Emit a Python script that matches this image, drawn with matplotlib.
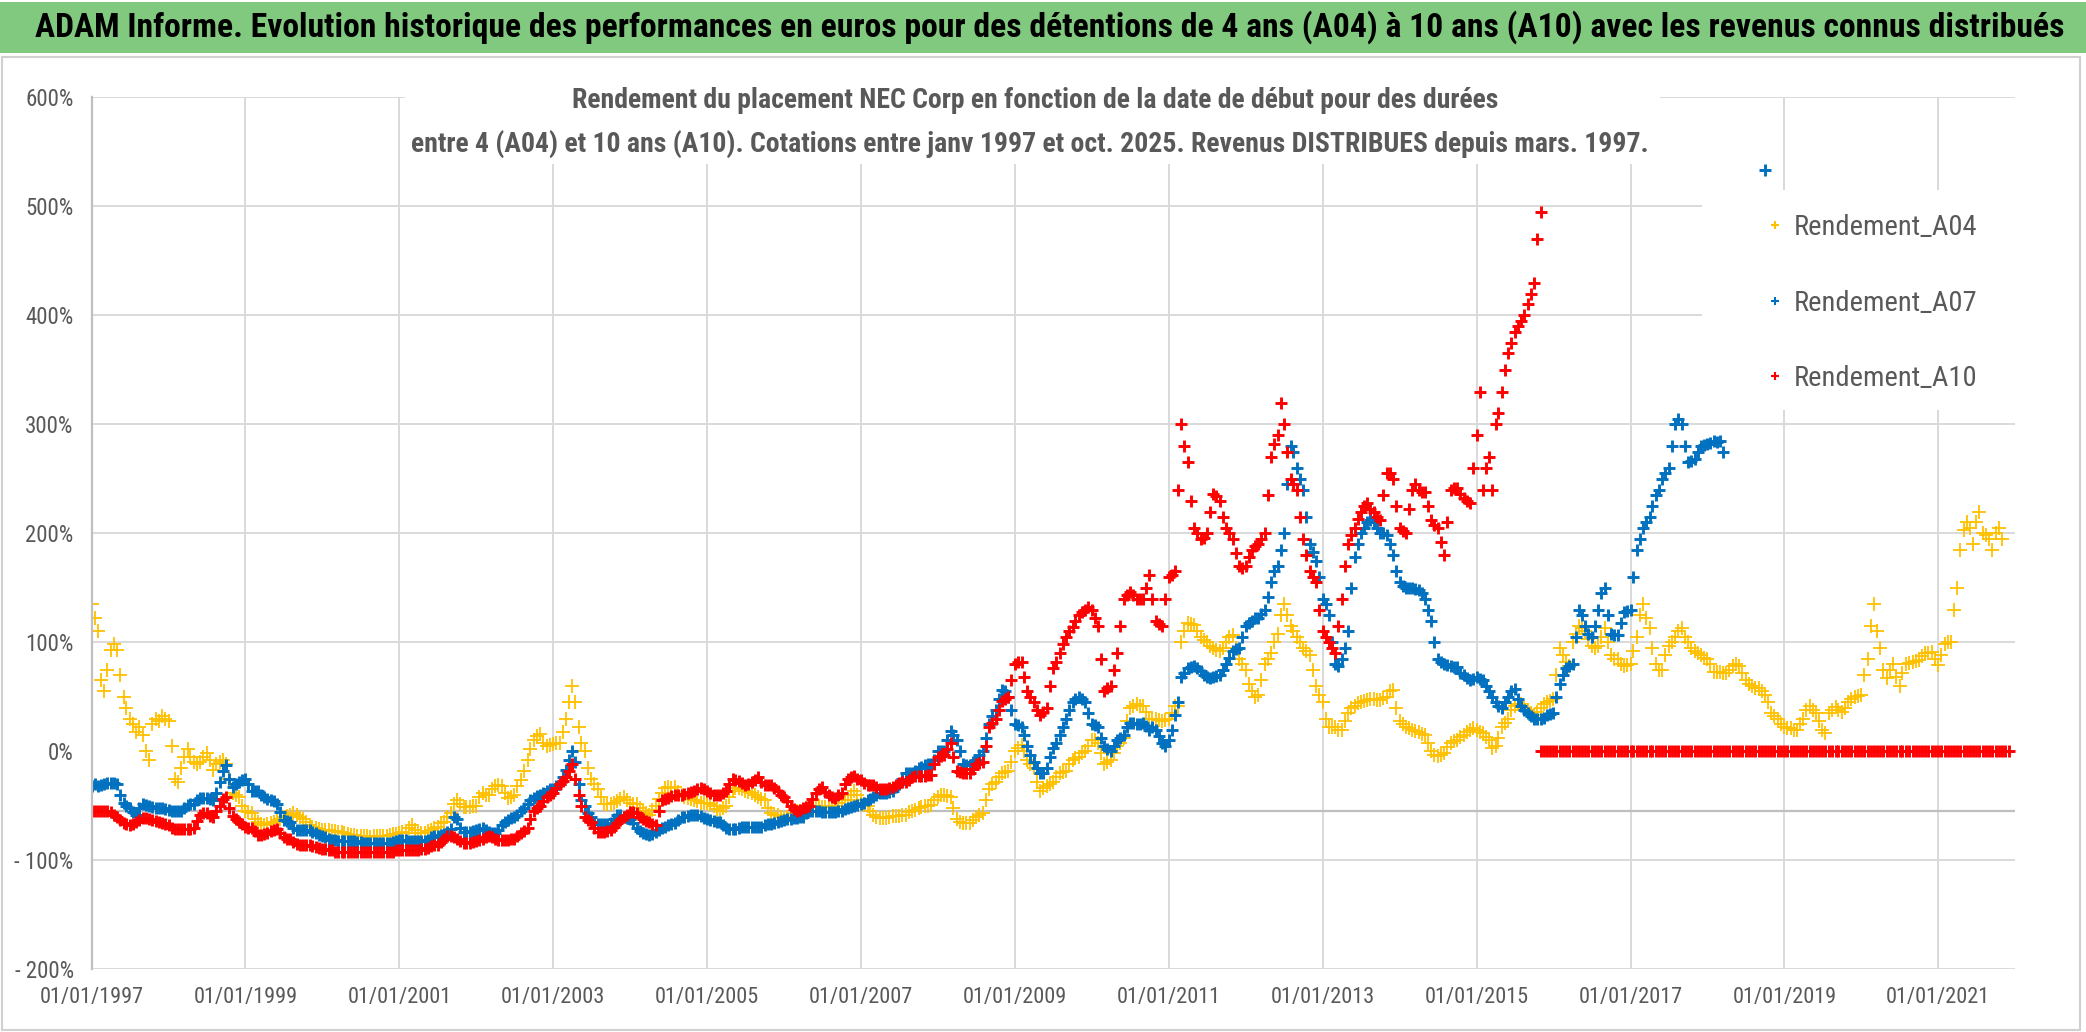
import matplotlib
matplotlib.use('Agg')
import matplotlib.pyplot as plt
import matplotlib.dates as mdates
from matplotlib import font_manager as fm
from matplotlib.patches import Rectangle
from matplotlib.lines import Line2D
import pandas as pd

# Valeurs (en %), le 1er de chaque mois depuis janvier 1997
rendement_a04 = [
    135, 110, 55, 93, 93, 50, 30, 18, 15, -8, 30, 32,
    28, -25, -15, 2, -10, -10, -2, -17, -10, -12, -38, -42,
    -55, -57, -65, -68, -66, -63, -60, -58, -58, -62, -68, -70,
    -72, -72, -73, -74, -76, -77, -78, -78, -78, -78, -78, -76,
    -75, -75, -68, -75, -75, -72, -69, -65, -57, -45, -51, -51,
    -50, -38, -40, -32, -32, -43, -40, -26, -8, 10, 16, 5,
    7, 8, 30, 60, 22, 0, -25, -35, -48, -48, -46, -42,
    -47, -48, -55, -58, -50, -38, -33, -33, -40, -43, -45, -47,
    -47, -50, -55, -50, -36, -34, -36, -38, -42, -45, -57, -58,
    -61, -60, -55, -55, -50, -50, -51, -51, -50, -45, -45, -36,
    -45, -50, -58, -61, -61, -59, -59, -58, -55, -52, -50, -49,
    -42, -40, -42, -62, -66, -66, -60, -57, -35, -28, -20, -18,
    0, 6, -8, -15, -36, -32, -28, -20, -18, -8, -5, 0,
    10, 8, -12, -8, 5, 12, 40, 43, 42, 30, 30, 28,
    30, 42, 100, 118, 116, 105, 100, 95, 92, 100, 107, 85,
    75, 55, 52, 80, 90, 108, 135, 115, 105, 95, 88, 60,
    45, 22, 22, 20, 35, 42, 45, 47, 48, 47, 50, 56,
    28, 22, 20, 18, 15, 0, -4, -2, 8, 10, 15, 20,
    20, 17, 10, 5, 22, 30, 42, 43, 38, 33, 40, 45,
    48, 95, 82, 100, 115, 110, 97, 97, 113, 88, 85, 78,
    80, 105, 135, 113, 80, 75, 97, 105, 113, 100, 92, 88,
    85, 73, 73, 72, 78, 78, 65, 60, 58, 52, 35, 30,
    22, 21, 20, 30, 42, 35, 20, 35, 41, 36, 45, 50,
    52, 85, 135, 95, 67, 80, 60, 80, 82, 84, 90, 91,
    79, 98, 100, 150, 203, 205, 210, 200, 195, 200, 195,
]
# mêmes séries, valeurs lues le 15 de chaque mois
rendement_a04_mi = [
    122, 65, 75, 98, 70, 40, 25, 22, 0, 25, 28, 30,
    5, -28, -5, -5, -12, -5, -8, -12, -8, -25, -40, -50,
    -56, -62, -67, -67, -65, -62, -59, -57, -60, -65, -69, -71,
    -72, -73, -74, -75, -77, -78, -78, -79, -78, -78, -77, -76,
    -74, -70, -72, -75, -73, -70, -66, -60, -48, -48, -51, -50,
    -42, -40, -35, -31, -38, -42, -32, -18, 2, 14, 8, 6,
    8, 18, 45, 45, 8, -15, -30, -42, -48, -47, -44, -45,
    -48, -52, -57, -54, -44, -34, -34, -37, -42, -44, -46, -47,
    -48, -53, -52, -42, -34, -35, -37, -40, -44, -52, -58, -60,
    -60, -57, -55, -52, -50, -50, -51, -50, -47, -45, -40, -40,
    -48, -55, -60, -61, -60, -59, -58, -56, -54, -51, -50, -45,
    -40, -41, -52, -65, -66, -63, -58, -45, -30, -24, -19, -10,
    3, 0, -12, -28, -34, -30, -24, -19, -12, -6, -2, 5,
    10, -2, -10, -2, 8, 28, 42, 42, 36, 30, 29, 29,
    35, 42, 110, 117, 110, 102, 97, 93, 95, 105, 95, 80,
    62, 50, 65, 85, 100, 125, 125, 110, 100, 92, 75, 52,
    30, 22, 20, 28, 40, 44, 46, 48, 47, 49, 55, 40,
    25, 21, 19, 16, 8, -3, -3, 4, 9, 13, 18, 21,
    18, 13, 3, 12, 26, 38, 43, 40, 35, 36, 43, 46,
    70, 88, 78, 108, 113, 103, 95, 105, 100, 85, 80, 79,
    92, 125, 122, 95, 75, 88, 100, 110, 105, 95, 90, 86,
    80, 73, 72, 75, 80, 72, 62, 58, 55, 45, 32, 25,
    21, 20, 25, 38, 38, 28, 17, 38, 38, 40, 48, 51,
    70, 115, 110, 75, 75, 68, 72, 81, 83, 87, 90, 85,
    88, 100, 130, 185, 210, 190, 220, 198, 185, 205,
]

rendement_a07 = [
    -32, -32, -30, -29, -30, -47, -52, -58, -48, -50, -52, -52,
    -54, -55, -55, -49, -48, -43, -43, -45, -28, -13, -33, -28,
    -25, -36, -36, -42, -45, -48, -63, -65, -72, -72, -72, -75,
    -78, -80, -81, -82, -82, -82, -83, -84, -84, -84, -84, -83,
    -81, -81, -82, -82, -82, -79, -78, -76, -71, -62, -74, -74,
    -72, -70, -74, -75, -68, -63, -60, -55, -48, -43, -40, -36,
    -35, -30, -17, 0, -30, -50, -60, -67, -67, -66, -58, -60,
    -62, -70, -75, -77, -74, -70, -68, -66, -60, -59, -58, -59,
    -62, -64, -65, -70, -71, -70, -69, -69, -69, -68, -67, -65,
    -63, -62, -61, -60, -55, -55, -56, -56, -56, -55, -52, -50,
    -48, -45, -42, -38, -38, -36, -30, -20, -20, -15, -13, -12,
    0, 0, 19, 10, -12, -13, -8, 0, 25, 38, 56, 50,
    25, 22, 5, -10, -20, -15, 3, 15, 30, 45, 50, 45,
    25, 22, 5, 0, 10, 15, 26, 25, 26, 20, 20, 8,
    10, 33, 68, 76, 78, 74, 68, 68, 70, 80, 92, 95,
    115, 120, 122, 130, 155, 170, 200, 280, 260, 240, 190, 175,
    140, 125, 80, 85, 110, 178, 200, 210, 210, 200, 198, 180,
    155, 150, 150, 148, 140, 120, 85, 80, 78, 77, 70, 65,
    68, 65, 55, 45, 40, 50, 57, 42, 35, 30, 30, 33,
    35, 62, 76, 80, 130, 115, 105, 130, 150, 108, 107, 128,
    130, 185, 205, 215, 235, 250, 260, 300, 300, 265, 268, 280,
    282, 285, 285,
]
rendement_a07_mi = [
    -30, -31, -29, -29, -40, -50, -56, -52, -49, -51, -52, -53,
    -55, -55, -52, -48, -45, -43, -44, -38, -18, -25, -30, -26,
    -30, -36, -40, -44, -46, -56, -64, -70, -72, -72, -74, -77,
    -79, -81, -82, -82, -82, -83, -84, -84, -84, -84, -84, -82,
    -81, -82, -82, -82, -81, -78, -77, -74, -60, -70, -74, -73,
    -71, -72, -75, -72, -65, -61, -58, -52, -45, -41, -38, -35,
    -32, -24, -8, -10, -45, -57, -65, -67, -67, -62, -58, -61,
    -66, -73, -76, -76, -72, -69, -67, -63, -60, -58, -58, -61,
    -63, -65, -68, -71, -71, -69, -69, -69, -69, -67, -66, -64,
    -62, -61, -60, -57, -55, -55, -56, -56, -55, -53, -51, -49,
    -47, -44, -40, -38, -37, -33, -25, -20, -18, -14, -12, -8,
    0, 10, 15, 0, -13, -10, -3, 12, 32, 48, 55, 38,
    24, 15, -3, -15, -20, -5, 8, 22, 38, 48, 48, 35,
    24, 12, 2, 5, 12, 22, 26, 25, 23, 22, 14, 5,
    20, 45, 72, 77, 76, 70, 67, 69, 75, 86, 94, 105,
    118, 122, 126, 142, 165, 185, 245, 275, 250, 215, 183, 160,
    135, 100, 78, 95, 150, 190, 205, 212, 205, 200, 190, 165,
    152, 150, 149, 145, 130, 100, 82, 79, 77, 72, 67, 66,
    66, 60, 50, 42, 45, 55, 48, 38, 32, 30, 31, 34,
    50, 70, 78, 105, 125, 108, 115, 145, 125, 107, 118, 129,
    160, 195, 210, 225, 240, 255, 280, 305, 280, 266, 275, 281,
    283, 284, 275,
]
# point isolé de la série A07
dates_a07_isole = ['2018-10-01']
rendement_a07_isole = [533]

rendement_a10 = [
    -55, -55, -55, -56, -60, -66, -68, -65, -61, -62, -64, -66,
    -68, -71, -71, -71, -70, -58, -57, -60, -50, -42, -59, -65,
    -69, -70, -77, -76, -73, -71, -79, -80, -85, -86, -86, -88,
    -90, -91, -92, -92, -92, -92, -92, -92, -92, -92, -92, -92,
    -91, -91, -91, -91, -90, -87, -86, -80, -78, -80, -84, -84,
    -82, -80, -78, -80, -81, -81, -80, -75, -70, -55, -50, -42,
    -38, -30, -24, -12, -40, -60, -65, -74, -74, -72, -66, -60,
    -56, -57, -62, -65, -68, -45, -43, -40, -40, -38, -36, -34,
    -36, -40, -40, -36, -25, -27, -31, -28, -24, -31, -31, -36,
    -42, -50, -55, -52, -50, -38, -33, -40, -43, -38, -25, -23,
    -26, -31, -31, -35, -35, -33, -29, -28, -24, -23, -23, -22,
    -5, -3, 8, -18, -20, -20, -12, -10, 22, 30, 46, 50,
    80, 82, 55, 45, 33, 40, 76, 90, 105, 114, 125, 130,
    130, 115, 55, 60, 90, 140, 146, 140, 140, 162, 120, 115,
    160, 165, 300, 265, 205, 195, 200, 236, 230, 205, 195, 170,
    170, 185, 190, 200, 270, 290, 300, 250, 240, 195, 165, 155,
    110, 100, 90, 140, 190, 205, 220, 228, 220, 212, 255, 250,
    205, 200, 240, 240, 238, 212, 205, 180, 240, 242, 232, 228,
    290, 240, 270, 300, 330, 365, 385, 395, 410, 430, 495,
]
rendement_a10_mi = [
    -55, -55, -55, -58, -63, -67, -67, -63, -61, -63, -65, -67,
    -70, -71, -71, -71, -64, -57, -59, -55, -44, -52, -62, -67,
    -70, -73, -77, -75, -72, -75, -80, -83, -86, -86, -87, -89,
    -90, -91, -92, -92, -92, -92, -92, -92, -92, -92, -92, -91,
    -91, -91, -91, -90, -89, -86, -83, -78, -79, -82, -84, -83,
    -81, -79, -79, -81, -81, -80, -78, -73, -62, -52, -46, -40,
    -34, -27, -18, -25, -50, -63, -70, -74, -73, -69, -63, -58,
    -56, -60, -64, -67, -55, -44, -41, -40, -39, -37, -35, -35,
    -38, -40, -38, -30, -26, -29, -30, -26, -28, -31, -34, -40,
    -46, -53, -54, -51, -44, -35, -37, -42, -40, -30, -24, -25,
    -29, -31, -33, -35, -34, -31, -28, -26, -23, -23, -22, -12,
    -4, 2, -5, -19, -20, -16, -11, 5, 26, 38, 48, 65,
    82, 68, 50, 38, 36, 60, 82, 98, 110, 120, 128, 132,
    122, 85, 58, 75, 115, 143, 143, 140, 150, 140, 117, 140,
    162, 240, 280, 230, 200, 196, 220, 234, 215, 200, 182, 168,
    178, 188, 195, 235, 282, 320, 275, 245, 215, 180, 160, 130,
    105, 95, 115, 170, 198, 213, 225, 222, 215, 235, 255, 225,
    202, 222, 245, 238, 225, 208, 192, 210, 242, 236, 230, 260,
    330, 260, 240, 310, 350, 375, 390, 400, 420, 470,
]
# après nov. 2015 la série A10 vaut 0 % jusqu'à fin 2021
debut_a10_zero = '2015-11-01'
rendement_a10_zero = [0] * 74

graduations_y = [-200, -100, 0, 100, 200, 300, 400, 500, 600]
etiquettes_y = ['- 200%', '- 100%', '0%', '100%', '200%', '300%', '400%', '500%', '600%']
annees_x = list(range(1997, 2022, 2))

titre = ("ADAM Informe. Evolution historique des performances en euros pour des détentions "
         "de 4 ans (A04) à 10 ans (A10) avec les revenus connus distribués")
sous_titre_1 = "Rendement du placement NEC Corp en fonction de la date de début pour des durées"
sous_titre_2 = ("entre 4 (A04) et 10 ans (A10). Cotations entre janv 1997 et oct. 2025. "
                "Revenus DISTRIBUES depuis mars. 1997.")

# choix d'une police étroite (le graphique d'origine est en Calibri compressé)
noms = {f.name for f in fm.fontManager.ttflist}
police = 'Liberation Sans'
for nom in ['Roboto Condensed', 'Liberation Sans Narrow', 'Archivo Narrow', 'Barlow Semi Condensed']:
    if nom in noms:
        police = nom
        break
plt.rcParams['font.family'] = [police, 'DejaVu Sans']

W, H = 2086, 1032
fig = plt.figure(figsize=(W / 100, H / 100), dpi=100)
fig.patch.set_facecolor('white')


def fx(px):
    return px / W


def fy(py):
    return 1 - py / H


def dates_mensuelles(debut, n, decalage_jours=0):
    return pd.date_range(debut, periods=n, freq='MS') + pd.Timedelta(days=decalage_jours)


# bandeau vert du titre
fig.patches.append(Rectangle((0, fy(53)), 1, fy(2) - fy(53), transform=fig.transFigure,
                             facecolor='#80C97F', edgecolor='none', zorder=0))
# cadre du graphique
fig.patches.append(Rectangle((fx(2), fy(1030)), fx(2080) - fx(2), fy(57) - fy(1030),
                             transform=fig.transFigure, facecolor='none',
                             edgecolor='#D0D0D0', linewidth=1.5, zorder=0))

ax = fig.add_axes([fx(91.7), fy(969.3), fx(2015.2) - fx(91.7), fy(97.3) - fy(969.3)])
ax.set_axisbelow(True)

jaune, bleu, rouge = '#FFC000', '#0070C0', '#FF0000'
style_fin = dict(ls='none', marker='+', ms=10, mew=1.3)
style_gras = dict(ls='none', marker='+', ms=8.5, mew=2.1)

series = [
    (rendement_a04, rendement_a04_mi, jaune, style_fin),
    (rendement_a07, rendement_a07_mi, bleu, style_gras),
    (rendement_a10, rendement_a10_mi, rouge, style_gras),
]
for debut_mois, mi_mois, couleur, style in series:
    ax.plot(dates_mensuelles('1997-01-01', len(debut_mois)), debut_mois, color=couleur, **style)
    ax.plot(dates_mensuelles('1997-01-01', len(mi_mois), 14), mi_mois, color=couleur, **style)
    if couleur == bleu:
        ax.plot(pd.to_datetime(dates_a07_isole), rendement_a07_isole, color=bleu, **style)
ax.plot(dates_mensuelles(debut_a10_zero, len(rendement_a10_zero)), rendement_a10_zero,
        color=rouge, **style_gras)
ax.plot(dates_mensuelles(debut_a10_zero, len(rendement_a10_zero) - 1, 14),
        rendement_a10_zero[1:], color=rouge, **style_gras)

ax.set_xlim(pd.Timestamp('1997-01-01'), pd.Timestamp('2022-01-01'))
ax.set_ylim(-200, 600)
ax.set_yticks(graduations_y)
ax.set_yticklabels(etiquettes_y)
ax.set_xticks([pd.Timestamp(f'{a}-01-01') for a in annees_x])
ax.xaxis.set_major_formatter(mdates.DateFormatter('%d/%m/%Y'))

ax.grid(True, color='#D9D9D9', linewidth=1.4)
ax.get_ygridlines()[2].set_visible(False)
ax.axhline(-55, color='#BFBFBF', linewidth=1.6, zorder=0.6)
for cote in ['top', 'right', 'bottom']:
    ax.spines[cote].set_visible(False)
ax.spines['left'].set_color('#BFBFBF')
ax.spines['left'].set_linewidth(1.6)
ax.tick_params(length=0, colors='#595959')
ax.tick_params(axis='y', pad=13, labelsize=16.5)
ax.tick_params(axis='x', pad=13, labelsize=16)

# cadres blancs du sous-titre et de la légende
ax.add_patch(Rectangle((fx(405), fy(164)), fx(1660) - fx(405), fy(60) - fy(164),
                       transform=fig.transFigure, facecolor='white', edgecolor='none',
                       zorder=1, clip_on=False))
ax.add_patch(Rectangle((fx(1702), fy(410)), fx(2015) - fx(1702), fy(190) - fy(410),
                       transform=fig.transFigure, facecolor='white', edgecolor='none',
                       zorder=1, clip_on=False))

poignees = [Line2D([], [], ls='none', marker='+', ms=6, mew=1.5, color=c) for c in (jaune, bleu, rouge)]
ax.legend(poignees, ['Rendement_A04', 'Rendement_A07', 'Rendement_A10'], loc='upper left',
          bbox_to_anchor=(fx(1752), fy(200)), bbox_transform=fig.transFigure, frameon=False,
          fontsize=20.5, labelcolor='#595959', handlelength=0.6, handletextpad=0.35,
          labelspacing=1.7, borderpad=0)

t_titre = fig.text(fx(1050), fy(27), titre, ha='center', va='center', fontsize=24,
                   fontweight='bold', color='black')
t_s1 = fig.text(fx(1035), fy(101), sous_titre_1, ha='center', va='center', fontsize=20,
                fontweight='bold', color='#595959')
t_s2 = fig.text(fx(1030), fy(144), sous_titre_2, ha='center', va='center', fontsize=20,
                fontweight='bold', color='#595959')

# ajuste les tailles pour retrouver les largeurs du graphique d'origine
fig.canvas.draw()
rendu = fig.canvas.get_renderer()
l = t_titre.get_window_extent(rendu).width
t_titre.set_fontsize(t_titre.get_fontsize() * 2029 / l)
l = t_s2.get_window_extent(rendu).width
taille = t_s2.get_fontsize() * 1239 / l
t_s1.set_fontsize(taille)
t_s2.set_fontsize(taille)

fig.savefig('out.png', dpi=100)
